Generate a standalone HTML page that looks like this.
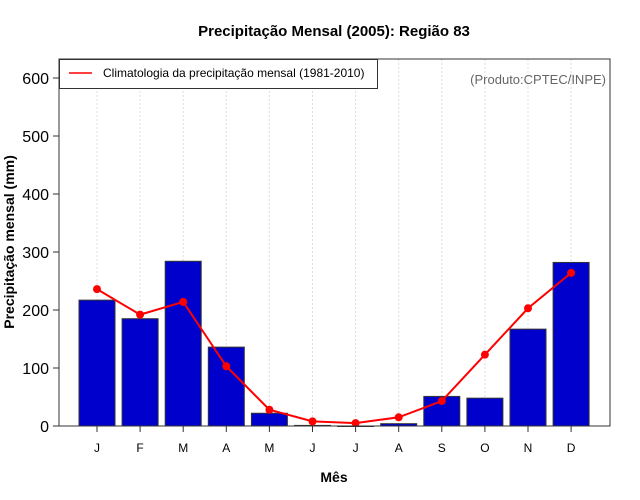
<!DOCTYPE html>
<html><head><meta charset="utf-8"><style>body{margin:0;background:#fff}svg{display:block;font-family:"Liberation Sans",sans-serif}</style></head><body>
<svg id="c" width="640" height="500"></svg>
<script>
const months=["J","F","M","A","M","J","J","A","S","O","N","D"];
const observed=[217,185,284,136,22,1,0,4,51,48,167,282];
const climatology=[236,192,214,103,28,8,5,15,43,123,203,264];
const yTicks=[0,100,200,300,400,500,600];
const NS="http://www.w3.org/2000/svg";
const svg=document.getElementById('c');
const L=59,R=610,T=59,B=426;
const y=v=>426-v*0.58;
const x=i=>97+i*43.1;
function mk(t,a,p){const e=document.createElementNS(NS,t);for(const k in a)e.setAttribute(k,a[k]);(p||svg).appendChild(e);return e;}
months.forEach((m,i)=>{const g=mk('line',{x1:x(i),x2:x(i),y1:T,y2:B,stroke:'#ddd','stroke-dasharray':'2,2'});

});
observed.forEach((v,i)=>{const b=mk('rect',{x:x(i)-18,y:y(v),width:36,height:Math.max(0.5,v*0.58),fill:'#0000CD',stroke:'#333','stroke-width':1});

});
const pts=climatology.map((v,i)=>x(i)+','+y(v)).join(' ');
const pl=mk('polyline',{points:pts,fill:'none',stroke:'#f00','stroke-width':2});


climatology.forEach((v,i)=>{const c=mk('circle',{cx:x(i),cy:y(v),r:4,fill:'#f00'});

});
const box=mk('rect',{x:L,y:T,width:R-L,height:B-T,fill:'none',stroke:'#333','stroke-width':1});


yTicks.forEach(v=>{mk('line',{x1:L-6,x2:L,y1:y(v),y2:y(v),stroke:'#333'});
const t=mk('text',{x:L-10,y:y(v)+6,'text-anchor':'end','font-size':16});t.textContent=v;

});
months.forEach((m,i)=>{mk('line',{x1:x(i),x2:x(i),y1:B,y2:B+6,stroke:'#333'});
const t=mk('text',{x:x(i),y:452,'text-anchor':'middle','font-size':12});t.textContent=m;

});
</script>
<svg style="position:absolute;left:0;top:0" width="640" height="500">
<text x="334" y="36" text-anchor="middle" font-size="15" font-weight="bold">Precipitação Mensal (2005): Região 83</text>
<text x="334" y="482" text-anchor="middle" font-size="14" font-weight="bold">Mês</text>
<text transform="translate(14,242) rotate(-90)" text-anchor="middle" font-size="14" font-weight="bold">Precipitação mensal (mm)</text>
<g>
<rect x="59.5" y="59.5" width="318" height="29" fill="#fff" stroke="#333"/>
<line x1="69" x2="92" y1="73" y2="73" stroke="#f00" stroke-width="1.5"/>
<text x="103" y="77" font-size="12">Climatologia da precipitação mensal (1981-2010)</text>
</g>
<text x="606" y="84" text-anchor="end" font-size="13" fill="#666">(Produto:CPTEC/INPE)</text>
</svg>
</body></html>
